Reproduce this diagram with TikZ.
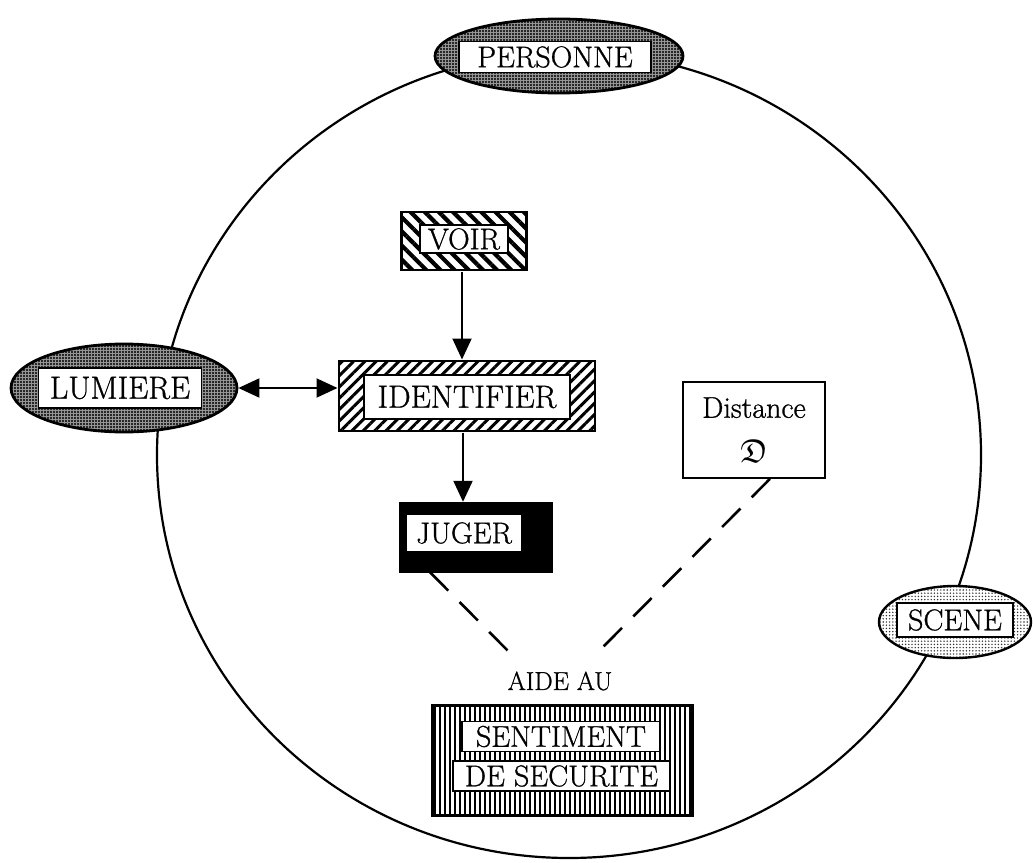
\documentclass[tikz,border=0pt]{standalone}
\usepackage{amssymb}
\usepackage{fontspec}
\setmainfont{Latin Modern Roman}[FakeBold=0.9]
\usetikzlibrary{arrows.meta,patterns.meta,shapes.geometric}
\begin{document}
\begin{tikzpicture}[x=1pt,y=-1pt,
  lbl/.style={draw=black,line width=1.3pt,fill=white,inner sep=0pt,font=\fontsize{30}{32}\selectfont},
  darkell/.style={ellipse,draw=black,line width=2.8pt,inner sep=0pt,
    preaction={fill=black!40},pattern={Dots[radius=1.1pt,distance=3pt]},pattern color=black},
  lightell/.style={ellipse,draw=black,line width=2.4pt,inner sep=0pt,
    preaction={fill=white},pattern={Dots[radius=0.8pt,distance=3.2pt]},pattern color=black!80},
  voirbox/.style={rectangle,draw=black,line width=2.5pt,inner sep=0pt,
    preaction={fill=white},pattern={Lines[angle=-45,distance=10pt,line width=4.2pt]},pattern color=black},
  idbox/.style={rectangle,draw=black,line width=2.5pt,inner sep=0pt,
    preaction={fill=white},pattern={Lines[angle=45,distance=8pt,line width=3pt]},pattern color=black},
  jugbox/.style={rectangle,draw=black,fill=black,inner sep=0pt},
  sentbox/.style={rectangle,draw=black,line width=3pt,inner sep=0pt,
    preaction={fill=white},pattern={Lines[angle=90,distance=5pt,line width=2.4pt]},pattern color=black},
  distbox/.style={rectangle,draw=black,line width=1.6pt,fill=white,inner sep=0pt,align=center,
    font=\fontsize{30}{45}\selectfont},
  arr/.style={line width=2pt,-{Triangle[length=21pt,width=19pt]}},
  darr/.style={line width=2pt,{Triangle[length=21pt,width=19pt]}-{Triangle[length=21pt,width=19pt]}},
  dashln/.style={line width=2.6pt,dash pattern=on 26pt off 16pt},
  circ/.style={line width=2.2pt}
]
\useasboundingbox (0,0) rectangle (1033,862);
\fill[white] (0,0) rectangle (1033,862);

% big circle
\draw[circ] (569,455) ellipse [x radius=412pt, y radius=403pt];

% PERSONNE
\node[darkell,minimum width=248pt,minimum height=74pt] (personne) at (559,56) {};
\node[lbl,minimum width=192pt,minimum height=31pt] (personneL) at (555,57) {PERSONNE};

% LUMIERE
\node[darkell,minimum width=226pt,minimum height=88pt] (lumiere) at (124,388) {};
\node[lbl,minimum width=163pt,minimum height=40pt,font=\fontsize{32}{34}\selectfont] (lumiereL) at (120,388) {LUMIERE};

% SCENE
\node[lightell,minimum width=152pt,minimum height=72pt] (scene) at (955,622) {};
\node[lbl,minimum width=116pt,minimum height=34pt] (sceneL) at (955,620) {SCENE};

% VOIR
\node[voirbox,minimum width=125pt,minimum height=58pt] (voir) at (464,241) {};
\node[lbl,minimum width=88pt,minimum height=28pt] (voirL) at (464,239) {VOIR};

% IDENTIFIER
\node[idbox,minimum width=256pt,minimum height=70pt] (ident) at (467,396) {};
\node[lbl,minimum width=206pt,minimum height=44pt,font=\fontsize{32}{34}\selectfont] (identL) at (467,397) {IDENTIFIER};

% JUGER
\node[jugbox,minimum width=153pt,minimum height=70pt] (juger) at (476,537) {};
\node[lbl,minimum width=115pt,minimum height=37pt] (jugerL) at (464,533) {JUGER};

% Distance
\node[distbox,minimum width=142pt,minimum height=96pt] (dist) at (754,430) {Distance\\\scalebox{1.1}{$\mathfrak{D}$}};

% AIDE AU
\node[font=\fontsize{26}{28}\selectfont,inner sep=0pt] (aide) at (560,681) {AIDE AU};

% SENTIMENT DE SECURITE
\node[sentbox,minimum width=260pt,minimum height=110pt] (sent) at (562,760) {};
\node[lbl,minimum width=198pt,minimum height=30pt] (sent1) at (561,736.5) {SENTIMENT};
\node[lbl,minimum width=217pt,minimum height=30pt] (sent2) at (561.5,776) {DE SECURITE};

% connectors
\draw[arr] ([xshift=-2pt]voir.south) -- ([xshift=-2pt]voir.south |- ident.north);
\draw[arr] ([xshift=-4pt]ident.south) -- ([xshift=-4pt]ident.south |- juger.north);
\draw[darr] (lumiere.east) -- (lumiere.east -| ident.west);

\coordinate (v1) at (517,660);
\coordinate (v2) at (600,650);
\draw[dashln] ([xshift=-46pt]juger.south) -- (v1);
\draw[dashln] ([xshift=16pt]dist.south) -- (v2);
\end{tikzpicture}
\end{document}
